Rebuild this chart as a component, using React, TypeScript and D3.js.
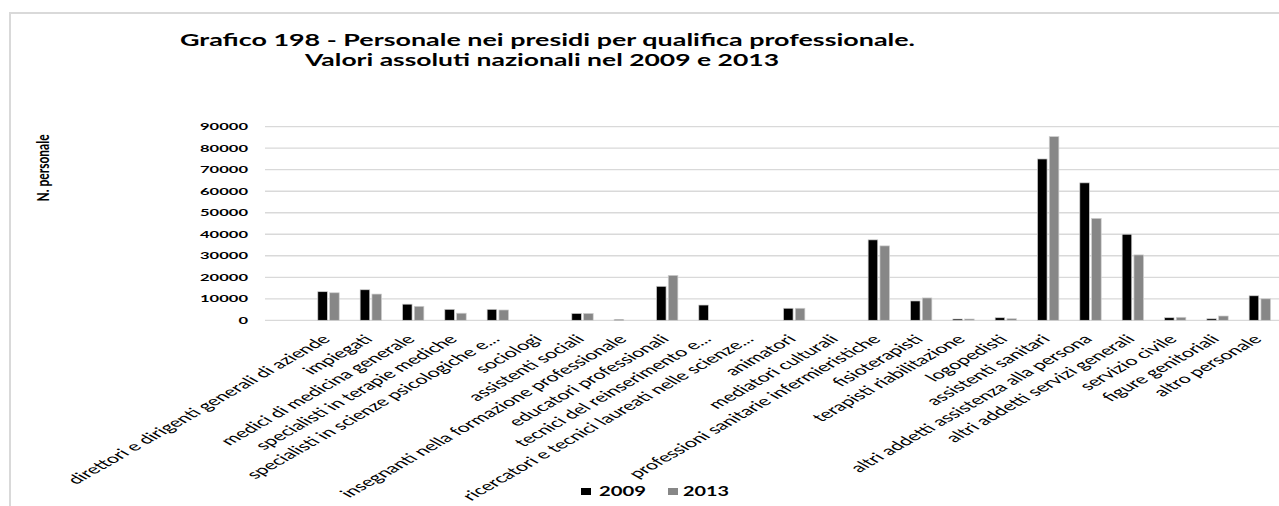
import React from 'react';
import * as d3 from 'd3';

const categories: string[] = [
  'direttori e dirigenti generali di aziende',
  'impiegati',
  'medici di medicina generale',
  'specialisti in terapie mediche',
  'specialisti in scienze psicologiche e...',
  'sociologi',
  'assistenti sociali',
  'insegnanti nella formazione professionale',
  'educatori professionali',
  'tecnici del reinserimento e...',
  'ricercatori e tecnici laureati nelle scienze...',
  'animatori',
  'mediatori culturali',
  'professioni sanitarie infermieristiche',
  'fisioterapisti',
  'terapisti riabilitazione',
  'logopedisti',
  'assistenti sanitari',
  'altri addetti assistenza alla persona',
  'altri addetti servizi generali',
  'servizio civile',
  'figure genitoriali',
  'altro personale',
];

const values2009: number[] = [
  13300, 14200, 7500, 5100, 5100, 0, 3200, 400, 15800, 7100, 0, 5600, 0,
  37400, 9000, 600, 1200, 75000, 63900, 40000, 1200, 700, 11400,
];

const values2013: number[] = [
  12800, 12200, 6500, 3300, 4800, 0, 3200, 0, 20900, 0, 0, 5600, 0,
  34600, 10400, 600, 750, 85400, 47400, 30400, 1400, 2000, 10000,
];

const seriesNames: string[] = ['2009', '2013'];
const seriesColors: string[] = ['#000000', '#878787'];
const yTicks: number[] = [0, 10000, 20000, 30000, 40000, 50000, 60000, 70000, 80000, 90000];

const titleLines: string[] = [
  'Grafico 198 - Personale nei presidi per qualifica professionale.',
  'Valori assoluti nazionali nel 2009 e 2013',
];
const yAxisTitle = 'N. personale';

export default function App() {
  const W = 1279;
  const H = 506;
  const plotLeft = 265;
  const plotRight = 1281;
  const x = d3
    .scaleBand<string>()
    .domain(categories)
    .range([plotLeft, plotRight])
    .paddingInner(0)
    .paddingOuter(0.5)
    .align(1);
  const y = d3.scaleLinear().domain([0, 90000]).range([320.3, 126.7]);

  const barW = 9.6;
  const gap = 2.2;
  const series = [values2009, values2013];

  const font = 'Lato, "Open Sans", sans-serif';

  return (
    <svg
      width={W}
      height={H}
      style={{ position: 'absolute', left: 0, top: 0, background: '#fff' }}
    >
      <rect x={0} y={0} width={W} height={H} fill="#fff" />
      <path d={`M10,${H} V13 H${W}`} fill="none" stroke="#d9d9d9" strokeWidth={2} />

      {/* title */}
      <text x={180} y={46} fontFamily={font} fontWeight={700} fontSize={17.5} fill="#000"
        textLength={735} lengthAdjust="spacingAndGlyphs">{titleLines[0]}</text>
      <text x={305} y={66} fontFamily={font} fontWeight={700} fontSize={17.5} fill="#000"
        textLength={474} lengthAdjust="spacingAndGlyphs">{titleLines[1]}</text>

      {/* y axis title */}
      <text transform="translate(49,168) scale(1.35,1) rotate(-90)" textAnchor="middle"
        fontFamily={font} fontWeight={700} fontSize={12} fill="#000">{yAxisTitle}</text>

      {/* gridlines */}
      {yTicks.map((t) => (
        <line key={'g' + t} x1={plotLeft} x2={W} y1={y(t)} y2={y(t)} stroke="#d9d9d9" strokeWidth={1.3} />
      ))}

      {/* y tick labels */}
      {yTicks.map((t) => {
        const s = String(t);
        const len = 9.6 * s.length;
        return (
          <text key={'t' + t} x={248 - len} y={y(t) + 3.4} fontFamily={font} fontWeight={700}
            fontSize={9} fill="#000" textLength={len} lengthAdjust="spacingAndGlyphs">{s}</text>
        );
      })}

      {/* bars */}
      {categories.map((c, i) => {
        const cx = (x(c) as number) + x.bandwidth() / 2;
        return series.map((vals, si) => {
          const v = vals[i];
          if (!v) return null;
          const bx = si === 0 ? cx - gap / 2 - barW : cx + gap / 2;
          const top = y(v);
          return (
            <rect key={c + si} x={bx} y={top} width={barW} height={y(0) - top}
              fill={seriesColors[si]} stroke="#cfcfcf" strokeWidth={0.7} />
          );
        });
      })}

      {/* x labels */}
      {categories.map((c) => {
        const cx = (x(c) as number) + x.bandwidth() / 2;
        return (
          <text key={'l' + c} transform={`translate(${cx + 3},340) scale(1.76,1) rotate(-45)`}
            textAnchor="end" fontFamily={font} fontSize={12.4} fill="#000">{c}</text>
        );
      })}

      {/* legend */}
      <rect x={581} y={488} width={10} height={7} fill={seriesColors[0]} />
      <text x={599} y={496} fontFamily={font} fontWeight={700} fontSize={14} fill="#000"
        textLength={47} lengthAdjust="spacingAndGlyphs">{seriesNames[0]}</text>
      <rect x={668} y={488} width={10} height={7} fill={seriesColors[1]} />
      <text x={683} y={496} fontFamily={font} fontWeight={700} fontSize={14} fill="#000"
        textLength={46} lengthAdjust="spacingAndGlyphs">{seriesNames[1]}</text>
    </svg>
  );
}
